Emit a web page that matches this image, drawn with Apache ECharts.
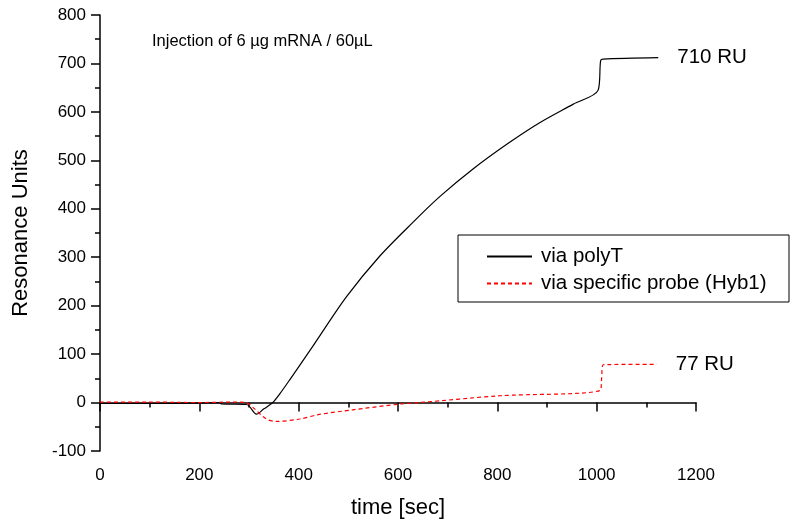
<!DOCTYPE html>
<html>
<head>
<meta charset="utf-8">
<script src="https://cdn.jsdelivr.net/npm/echarts@6/dist/echarts.min.js"></script>
<style>
  html, body { margin: 0; padding: 0; background: #fff; }
  #chart { width: 795px; height: 527px; }
</style>
</head>
<body>
<div id="chart"></div>
<script>
// values
const polyTTime = [0, 100, 200, 240, 245, 295, 315, 330, 348, 362, 382, 429, 496, 563, 630, 684, 751, 819, 886, 953, 1003, 1008, 1013, 1124];
const polyTRU   = [-2, -2, -1, 0, -3, -4, -24, -13, 0, 18, 47, 117, 218, 302, 372, 425, 482, 533, 578, 616, 645, 706, 709, 712];

const probeTime = [0, 100, 200, 267, 294, 310, 335, 355, 402, 439, 509, 604, 644, 805, 1007, 1010, 1013, 1121];
const probeRU   = [1, 1, 0, 1, 0, -12, -34, -39, -34, -25, -15, -3, 0, 14, 25, 50, 78, 79];

const seriesNames = ['via polyT', 'via specific probe (Hyb1)'];
const endLabels = ['710 RU', '77 RU'];

const font = 'Liberation Sans, Arial, sans-serif';
const zip = (a, b) => a.map((t, i) => [t, b[i]]);

const chart = echarts.init(document.getElementById('chart'), null, { renderer: 'canvas' });

const axisCommon = {
  axisLine: { show: true, lineStyle: { color: '#000', width: 1.5 } },
  axisTick: { show: true, inside: false, length: 9, lineStyle: { color: '#000', width: 1.5 } },
  minorTick: { show: true, splitNumber: 2, length: 5, lineStyle: { color: '#000', width: 1.5 } },
  splitLine: { show: false },
  axisLabel: { color: '#000', fontFamily: font, fontSize: 17, formatter: v => String(v) },
  nameTextStyle: { color: '#000', fontFamily: font, fontSize: 22 }
};

const option = {
  animation: false,
  backgroundColor: '#fff',
  grid: { left: 100, right: 99, top: 15, bottom: 76, containLabel: false },
  xAxis: {
    ...axisCommon,
    type: 'value',
    min: 0, max: 1200, interval: 200,
    name: 'time [sec]',
    nameLocation: 'middle',
    nameGap: 46,
    axisLabel: { ...axisCommon.axisLabel, margin: 16 }
  },
  yAxis: {
    ...axisCommon,
    type: 'value',
    min: -100, max: 800, interval: 100,
    name: 'Resonance Units',
    nameLocation: 'middle',
    nameRotate: 90,
    nameGap: 68,
    axisLabel: { ...axisCommon.axisLabel, margin: 14 }
  },
  legend: {
    orient: 'vertical',
    left: 486, top: 246,
    itemWidth: 45, itemHeight: 14,
    itemGap: 6,
    padding: 0,
    itemStyle: { opacity: 0 },
    textStyle: { color: '#000', fontFamily: font, fontSize: 20.5, padding: [0, 0, 0, 4] },
    data: seriesNames
  },
  graphic: [
    {
      type: 'rect',
      shape: { x: 458, y: 235, width: 331, height: 67 },
      style: { fill: 'none', stroke: '#000', lineWidth: 1 },
      z: 1
    },
    {
      type: 'text',
      left: 152, top: 33,
      style: { text: 'Injection of 6 µg mRNA / 60µL', fill: '#000', font: '16.5px ' + font }
    }
  ],
  series: [
    {
      name: seriesNames[0],
      type: 'line',
      data: zip(polyTTime, polyTRU),
      symbol: 'none',
      smooth: 0.3,
      lineStyle: { color: '#000', width: 1.2 },
      itemStyle: { color: '#000' },
      endLabel: { show: true, formatter: endLabels[0], distance: 19, color: '#000', fontFamily: font, fontSize: 20.5 },
      z: 3
    },
    {
      name: seriesNames[1],
      type: 'line',
      data: zip(probeTime, probeRU),
      symbol: 'none',
      smooth: 0.3,
      lineStyle: { color: '#ff0000', width: 1.2, type: [4, 3] },
      itemStyle: { color: '#ff0000' },
      endLabel: { show: true, formatter: endLabels[1], distance: 19, color: '#000', fontFamily: font, fontSize: 20.5 },
      z: 4
    }
  ]
};

chart.setOption(option);
</script>
</body>
</html>
